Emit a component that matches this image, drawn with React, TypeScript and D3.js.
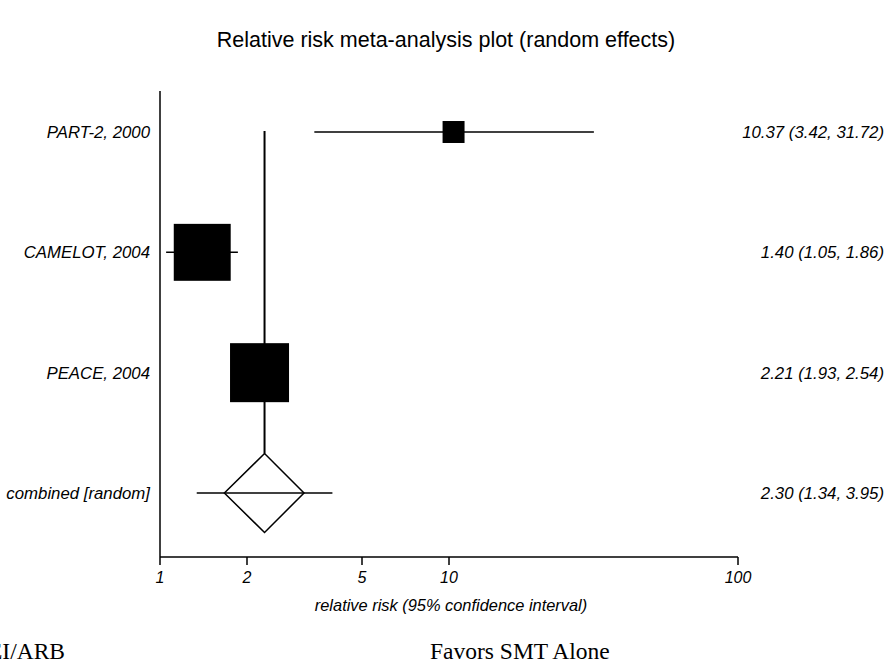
import React from "react";
import * as d3 from "d3";

const studies = ["PART-2, 2000", "CAMELOT, 2004", "PEACE, 2004"];
const rr = [10.37, 1.4, 2.21];
const ciLow = [3.42, 1.05, 1.93];
const ciHigh = [31.72, 1.86, 2.54];
const weights = [6.7, 45.0, 48.3];

const pooledLabel = "combined [random]";
const pooledRR = 2.3;
const pooledLow = 1.34;
const pooledHigh = 3.95;
const diamondLow = 1.67;
const diamondHigh = 3.15;

const tickValues = [1, 2, 5, 10, 100];

const W = 886;
const H = 666;

export default function App() {
  const x = d3.scaleLog().domain([1, 100]).range([160, 738]);
  const rows = [...studies, pooledLabel];
  const y = d3.scalePoint<string>().domain(rows).range([132, 493]);
  const side = d3.scaleSqrt().domain([0, d3.max(weights) as number]).range([0, 59]);
  const fmt = (v: number) => v.toFixed(2);
  const axisY = 557;
  const font = "Liberation Sans, Arial, sans-serif";
  const py = y(pooledLabel) as number;
  const dh = 39.5;
  const lblSize = 16.8;

  return (
    <svg width={W} height={H} style={{ position: "absolute", left: 0, top: 0, background: "#fff" }}>
      <text x={446} y={47} textAnchor="middle" fontFamily={font} fontSize={21.5} fill="#000">
        Relative risk meta-analysis plot (random effects)
      </text>
      {/* y axis */}
      <line x1={160} x2={160} y1={91} y2={axisY} stroke="#000" strokeWidth={1.5} />
      {/* x axis */}
      <line x1={160} x2={738} y1={axisY} y2={axisY} stroke="#000" strokeWidth={1.5} />
      {tickValues.map((t) => (
        <g key={t}>
          <line x1={x(t)} x2={x(t)} y1={axisY} y2={axisY + 8} stroke="#000" strokeWidth={1.5} />
          <text x={x(t)} y={axisY + 26} textAnchor="middle" fontFamily={font} fontStyle="italic" fontSize={16}>
            {t}
          </text>
        </g>
      ))}
      <text x={451} y={611} textAnchor="middle" fontFamily={font} fontStyle="italic" fontSize={16.4}>
        relative risk (95% confidence interval)
      </text>
      {/* pooled vertical line */}
      <line x1={x(pooledRR)} x2={x(pooledRR)} y1={(y(studies[0]) as number) - 1} y2={py - dh} stroke="#000" strokeWidth={2} />
      {studies.map((s, i) => {
        const cy = y(s) as number;
        const sd = side(weights[i]);
        return (
          <g key={s}>
            <line x1={x(ciLow[i])} x2={x(ciHigh[i])} y1={cy} y2={cy} stroke="#000" strokeWidth={1.5} />
            <rect x={x(rr[i]) - sd / 2} y={cy - sd / 2} width={sd} height={sd} fill="#000" />
            <text x={150} y={cy + 6} textAnchor="end" fontFamily={font} fontStyle="italic" fontSize={lblSize}>
              {s}
            </text>
            <text x={884} y={cy + 6} textAnchor="end" fontFamily={font} fontStyle="italic" fontSize={lblSize}>
              {`${fmt(rr[i])} (${fmt(ciLow[i])}, ${fmt(ciHigh[i])})`}
            </text>
          </g>
        );
      })}
      {/* pooled */}
      <line x1={x(pooledLow)} x2={x(pooledHigh)} y1={py} y2={py} stroke="#000" strokeWidth={1.5} />
      <path
        d={`M${x(diamondLow)},${py} L${x(pooledRR)},${py - dh} L${x(diamondHigh)},${py} L${x(pooledRR)},${py + dh} Z`}
        fill="none"
        stroke="#000"
        strokeWidth={1.5}
      />
      <text x={150} y={py + 6} textAnchor="end" fontFamily={font} fontStyle="italic" fontSize={lblSize}>
        {pooledLabel}
      </text>
      <text x={884} y={py + 6} textAnchor="end" fontFamily={font} fontStyle="italic" fontSize={lblSize}>
        {`${fmt(pooledRR)} (${fmt(pooledLow)}, ${fmt(pooledHigh)})`}
      </text>
      <text x={65} y={659} textAnchor="end" fontFamily="Liberation Serif, Times New Roman, serif" fontSize={23.5}>
        Favors SMT+ACEI/ARB
      </text>
      <text x={430} y={659} fontFamily="Liberation Serif, Times New Roman, serif" fontSize={23.5}>
        Favors SMT Alone
      </text>
    </svg>
  );
}
